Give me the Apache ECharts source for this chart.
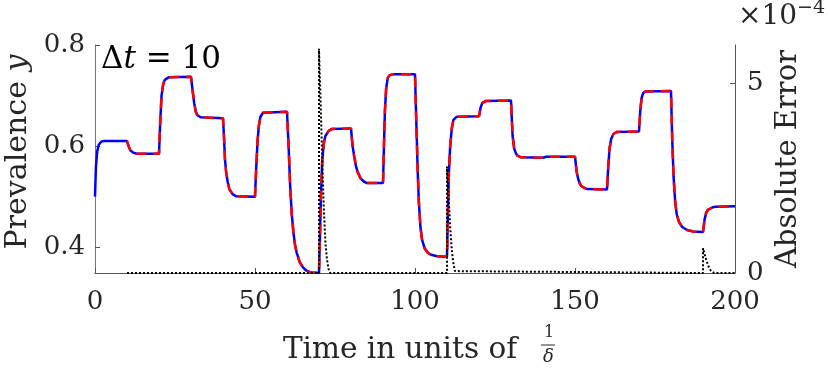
<!DOCTYPE html>
<html>
<head>
<meta charset="utf-8">
<script src="https://cdn.jsdelivr.net/npm/echarts@6/dist/echarts.min.js"></script>
<style>
  html, body { margin: 0; padding: 0; background: #fff; }
  #chart { width: 830px; height: 371px; }
</style>
</head>
<body>
<div id="chart"></div>
<script>
// prevalence y over time, [t, y]
var prevPts = [
  [0, 0.50], [0.3, 0.56], [0.7, 0.59], [1.2, 0.603], [2, 0.609], [3, 0.61], [10, 0.61],
  [10.5, 0.600], [11, 0.592], [12, 0.587], [13, 0.585], [20, 0.585],
  [20.4, 0.65], [20.8, 0.70], [21.3, 0.722], [21.8, 0.731], [23, 0.736], [30, 0.737],
  [30.5, 0.71], [31, 0.685], [31.5, 0.668], [32, 0.661], [33, 0.657], [40, 0.655],
  [40.3, 0.62], [40.6, 0.575], [41, 0.548], [41.5, 0.528], [42, 0.515], [43, 0.505], [44, 0.501], [50, 0.500],
  [50.4, 0.56], [50.8, 0.61], [51.2, 0.64], [51.7, 0.658], [52.5, 0.666], [60, 0.668],
  [60.5, 0.60], [61, 0.52], [61.5, 0.465], [62, 0.43], [62.5, 0.405], [63, 0.39], [64, 0.37],
  [65, 0.36], [66, 0.354], [67, 0.351], [68, 0.35], [70, 0.349],
  [70.3, 0.42], [70.6, 0.50], [71, 0.57], [71.5, 0.605], [72, 0.62], [73, 0.63], [74, 0.634], [80, 0.635],
  [80.5, 0.60], [81, 0.58], [81.5, 0.562], [82, 0.55], [83, 0.536], [84, 0.53], [85, 0.527], [90, 0.527],
  [90.3, 0.60], [90.6, 0.67], [91, 0.715], [91.5, 0.735], [92, 0.740], [93, 0.742], [100, 0.742],
  [100.4, 0.65], [100.8, 0.56], [101.2, 0.49], [101.7, 0.44], [102.2, 0.415], [103, 0.398],
  [104, 0.389], [105, 0.385], [107, 0.382], [110, 0.381],
  [110.3, 0.47], [110.6, 0.55], [111, 0.60], [111.5, 0.635], [112, 0.652], [113, 0.658], [120, 0.659],
  [120.5, 0.676], [121, 0.685], [122, 0.689], [130, 0.69],
  [130.5, 0.62], [131, 0.595], [131.5, 0.586], [132, 0.581], [133, 0.578], [140, 0.577],
  [141, 0.579], [150, 0.579],
  [150.5, 0.55], [151, 0.535], [151.5, 0.526], [152, 0.521], [153, 0.517], [154, 0.515], [160, 0.514],
  [160.4, 0.56], [160.8, 0.595], [161.3, 0.614], [162, 0.624], [163, 0.628], [170, 0.629],
  [170.4, 0.67], [170.8, 0.695], [171.3, 0.705], [172, 0.708], [180, 0.709],
  [180.4, 0.61], [180.8, 0.54], [181.3, 0.49], [181.8, 0.465], [182.5, 0.45], [183.5, 0.44],
  [185, 0.434], [187, 0.431], [190, 0.43],
  [190.5, 0.455], [191, 0.468], [191.5, 0.474], [192, 0.477], [193, 0.479], [194, 0.48], [200, 0.481]
];

// absolute error, in units of 1e-4
var errPts = [
  [10, 0], [70, 0], [70, 5.9], [70.5, 4.5], [71, 3.0], [71.5, 1.7], [72, 0.8], [72.5, 0.35], [73, 0.1], [73.5, 0],
  [110, 0], [110, 2.8], [110.5, 2.0], [111, 1.2], [111.5, 0.6], [112, 0.25], [112.5, 0.05], [113, 0],
  [190, 0], [190, 0.65], [190.5, 0.5], [191, 0.35], [191.5, 0.22], [192, 0.12], [192.5, 0.06], [193, 0.02], [193.5, 0],
  [200, 0]
];

var xTicks = [0, 50, 100, 150, 200];
var yLeftTicks = [0.4, 0.6, 0.8];
var yRightTicks = [0, 5];

// red dashed curve only drawn from t = 10 on
var approxPts = prevPts.filter(function (p) { return p[0] >= 10; });

var FONT = 'DejaVu Serif';
var INK = '#262626';

var myChart = echarts.init(document.getElementById('chart'));
var option = {
    animation: false,
    textStyle: { fontFamily: FONT, color: INK },
    grid: { left: 95, right: 95, top: 45, bottom: 98, outerBoundsMode: 'none', containLabel: false },
    title: {
        text: '{n|Δ}{i|t}{n| = 10}',
        left: 96, top: 39,
        textStyle: {
            rich: {
                n: { fontFamily: FONT, fontSize: 31, fontWeight: 'normal', color: '#000' },
                i: { fontFamily: FONT, fontSize: 31, fontWeight: 'normal', fontStyle: 'italic', color: '#000' }
            }
        }
    },
    xAxis: {
        type: 'value', min: 0, max: 200,
        name: 'Time in units of',
        nameLocation: 'middle', nameGap: 62,
        nameTextStyle: { fontFamily: FONT, fontSize: 29.5, color: INK, padding: [0, 30, 0, 0] },
        axisLine: { lineStyle: { color: '#555', width: 1 } },
        axisTick: { inside: true, length: 5, customValues: xTicks, lineStyle: { color: '#555' } },
        axisLabel: { customValues: xTicks, fontFamily: FONT, fontSize: 26, color: INK, margin: 16 },
        splitLine: { show: false }
    },
    yAxis: [{
        type: 'value', min: 0.349, max: 0.8, position: 'left',
        name: 'Prevalence {i|y}',
        nameLocation: 'middle', nameGap: 62,
        nameTextStyle: {
            fontFamily: FONT, fontSize: 30, color: INK, padding: [0, 0, 0, 14],
            rich: { i: { fontFamily: FONT, fontSize: 30, fontStyle: 'italic', color: INK } }
        },
        axisLine: { show: true, lineStyle: { color: '#777', width: 1 } },
        axisTick: { show: true, inside: true, length: 5, customValues: yLeftTicks, lineStyle: { color: '#555' } },
        axisLabel: {
            customValues: yLeftTicks, fontFamily: FONT, fontSize: 26, color: INK, margin: 10,
            formatter: function (v) { return v.toFixed(1); }
        },
        splitLine: { show: false }
    }, {
        type: 'value', min: 0, max: 6, position: 'right',
        name: 'Absolute Error',
        nameLocation: 'middle', nameGap: 38,
        nameTextStyle: { fontFamily: FONT, fontSize: 29, color: INK },
        axisLine: { show: true, lineStyle: { color: '#555', width: 1 } },
        axisTick: { show: true, inside: true, length: 5, customValues: yRightTicks, lineStyle: { color: '#555' } },
        axisLabel: { customValues: yRightTicks, fontFamily: FONT, fontSize: 26, color: INK, margin: 12 },
        splitLine: { show: false }
    }],
    series: [{
        name: 'exact', type: 'line', data: prevPts, showSymbol: false, z: 2,
        lineStyle: { color: '#0000ff', width: 2.5 }
    }, {
        name: 'approx', type: 'line', data: approxPts, showSymbol: false, z: 3,
        lineStyle: { color: '#ff0000', width: 2.5, type: [10, 7] }
    }, {
        name: 'error', type: 'line', yAxisIndex: 1, data: errPts, showSymbol: false, z: 4,
        lineStyle: { color: '#000', width: 2, type: [2, 2] }
    }],
    graphic: [
        // exponent for the right axis
        { type: 'text', left: 738, top: 3, style: { text: '×10', font: '28px "DejaVu Serif"', fill: INK } },
        { type: 'text', left: 797, top: -1, style: { text: '−4', font: '19px "DejaVu Serif"', fill: INK } },
        // the 1/δ fraction in the x label
        { type: 'text', left: 544, top: 325, style: { text: '1', font: '16px "DejaVu Serif"', fill: INK } },
        { type: 'line', shape: { x1: 541, y1: 345, x2: 555, y2: 345 }, style: { stroke: INK, lineWidth: 1 } },
        { type: 'text', left: 543, top: 348, style: { text: 'δ', font: 'italic 18px "DejaVu Serif"', fill: INK } }
    ]
};
myChart.setOption(option);
window.addEventListener('resize', function () { myChart.resize(); });
</script>
</body>
</html>
